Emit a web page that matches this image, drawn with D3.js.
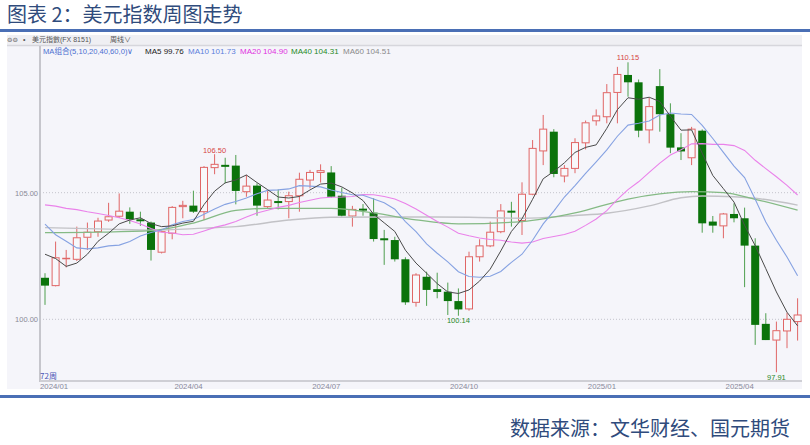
<!DOCTYPE html>
<html><head><meta charset="utf-8">
<script src="https://cdn.jsdelivr.net/npm/d3@7/dist/d3.min.js"></script>
<style>body{margin:0;background:#fff;}svg{display:block}</style>
</head><body>
<svg id="chart" width="810" height="445"></svg>
<script>
// ---- data (weekly US Dollar Index, 72 weeks) ----
const openP  = [101.64,101.33,102.40,102.37,103.24,103.46,103.92,104.07,104.25,103.95,103.82,102.65,103.40,104.45,104.49,104.25,105.99,106.10,106.07,105.04,105.28,104.45,104.67,104.65,104.88,105.50,105.80,105.80,104.88,104.08,104.37,104.21,103.20,103.13,102.37,100.67,101.68,101.19,101.09,100.72,100.41,102.47,102.90,103.46,104.29,103.90,104.94,106.65,107.41,105.66,105.96,106.97,107.84,108.00,108.96,109.65,109.36,107.48,109.21,108.10,106.79,106.38,107.45,103.86,103.69,104.16,103.99,102.91,99.82,99.18,99.54,99.91];
const highP  = [101.82,103.07,102.74,103.66,103.82,104.01,104.60,104.97,104.42,104.25,103.86,103.50,104.47,104.68,105.08,106.05,106.52,106.38,106.49,105.70,105.37,105.10,105.13,105.04,105.79,105.90,106.12,106.05,105.20,104.48,104.55,104.78,103.53,103.26,102.45,101.82,101.88,101.84,101.45,101.22,102.67,103.16,103.86,104.55,104.64,105.41,107.08,108.07,107.51,106.09,107.15,107.85,108.29,109.29,109.97,110.15,109.47,108.75,109.88,108.53,107.35,107.60,107.50,104.08,104.20,104.58,104.41,103.20,100.24,99.91,100.26,100.83];
const lowP   = [100.57,101.30,102.05,102.30,102.74,103.26,103.85,104.00,103.77,103.69,102.32,102.60,103.16,103.99,104.20,103.92,105.73,105.37,104.54,104.84,104.09,104.40,104.34,103.99,104.25,105.17,105.40,104.80,104.06,103.66,104.09,103.07,102.15,102.28,100.57,100.50,100.53,100.83,100.17,100.14,100.34,102.28,102.85,103.40,103.66,103.33,104.90,106.09,105.61,105.41,105.77,106.71,107.65,107.74,107.74,108.79,107.19,106.95,107.41,106.56,106.29,106.09,103.42,103.42,103.20,103.83,101.27,98.99,99.18,97.91,98.86,99.16];
const closeP = [101.33,102.43,102.41,103.22,103.44,103.88,104.05,104.27,103.95,103.88,102.74,103.46,104.42,104.50,104.25,106.00,106.12,106.07,105.07,105.26,104.49,104.71,104.62,104.88,105.53,105.80,105.87,104.84,104.09,104.34,104.32,103.17,103.13,102.37,100.67,101.75,101.16,101.08,100.72,100.39,102.47,102.90,103.44,104.28,104.27,104.94,106.75,107.51,105.74,105.96,106.98,107.76,108.03,108.95,109.67,109.36,107.45,108.40,108.10,106.78,106.63,107.51,103.79,103.70,104.16,103.99,102.91,99.78,99.18,99.55,100.00,100.17];

// moving averages as shown on the chart
const ma5  = [102.57,102.40,102.09,102.22,102.57,103.08,103.40,103.77,103.92,104.01,103.78,103.66,103.69,103.80,103.87,104.53,105.06,105.39,105.50,105.70,105.40,105.12,104.83,104.79,104.85,105.11,105.34,105.38,105.23,104.99,104.69,104.15,103.81,103.47,102.73,102.22,101.82,101.41,101.08,101.02,101.16,101.51,101.98,102.70,103.47,103.97,104.74,105.55,105.84,106.18,106.59,106.79,106.89,107.54,108.28,108.75,108.69,108.77,108.60,108.02,107.47,107.48,106.56,105.68,105.16,104.63,103.71,102.91,102.00,101.08,100.28,99.74];
const ma10 = [103.76,103.34,103.08,102.82,102.78,102.82,102.90,102.93,103.07,103.29,103.43,103.53,103.73,103.86,103.94,104.15,104.36,104.54,104.65,104.79,104.96,105.09,105.11,105.15,105.28,105.26,105.23,105.11,105.01,104.92,104.90,104.75,104.60,104.35,103.86,103.46,102.98,102.61,102.27,101.88,101.69,101.66,101.70,101.89,102.25,102.57,103.12,103.77,104.27,104.83,105.28,105.76,106.22,106.69,107.23,107.67,107.74,107.83,108.07,108.15,108.11,108.09,107.66,107.14,106.59,106.05,105.60,104.74,103.84,103.12,102.46,101.72];
const ma20 = [104.52,104.47,104.38,104.33,104.25,104.18,104.10,104.01,103.90,103.76,103.59,103.44,103.41,103.34,103.36,103.49,103.63,103.73,103.86,104.04,104.20,104.31,104.42,104.50,104.61,104.70,104.79,104.82,104.83,104.85,104.93,104.92,104.85,104.75,104.57,104.36,104.11,103.86,103.64,103.40,103.30,103.21,103.15,103.12,103.05,103.01,103.05,103.19,103.27,103.35,103.48,103.71,103.96,104.29,104.74,105.12,105.43,105.80,106.17,106.49,106.70,106.93,106.94,106.91,106.91,106.86,106.67,106.28,105.95,105.63,105.29,104.91];
const ma40Week = [0,5,10,14,18,21,27,31,35,39,45,50,55,58,61,64,67,71];
const ma40     = [103.42,103.44,103.50,103.80,104.30,104.38,104.38,104.20,103.93,103.77,103.86,104.20,104.75,104.95,105.04,105.00,104.74,104.31];
const ma60Week = [0,6,10,15,18,23,27,35,40,45,50,53,57,60,62,65,67,71];
const ma60     = [103.62,103.56,103.52,103.60,103.66,103.92,104.03,104.04,104.03,103.99,104.10,104.19,104.48,104.80,104.87,104.84,104.78,104.51];

const tickWeeks  = [1,14,27,40,53,66];
const tickLabels = ["2024/01","2024/04","2024/07","2024/10","2025/01","2025/04"];
const yTickVals  = [100,105];
const noteWeeks  = [16,55,39,69];
const noteVals   = [106.50,110.15,100.14,97.91];
const noteSide   = ["high","high","low","low"];
const legendNames  = ["MA5","MA10","MA20","MA40","MA60"];
const legendVals   = [99.76,101.73,104.90,104.31,104.51];

// ---- drawing ----
const svg = d3.select("#chart");
const LAT = "'Liberation Sans', Arial, sans-serif";
const CJK = "'Noto Sans CJK SC', 'Noto Sans', sans-serif";
const UP = "#e06666", DOWN = "#0b730b", DOWNW = "#4f9f4f";
const maColors = ["#4a4a4a","#86a2e2","#ea82ea","#85ba85","#c2c2c6"];
const legendColors = ["#222222","#5b7fdc","#e030e0","#1f8a1f","#8a8a8a"];

svg.append("rect").attr("width",810).attr("height",445).attr("fill","#ffffff");
svg.append("text").attr("x",7).attr("y",21.5).attr("font-family",CJK).attr("font-size",20)
  .attr("fill","#2f4b7c").text("图表 2：美元指数周图走势");
svg.append("rect").attr("x",0).attr("y",29).attr("width",810).attr("height",3).attr("fill","#4a6fb5");
svg.append("rect").attr("x",0).attr("y",395).attr("width",810).attr("height",3).attr("fill","#4a6fb5");
svg.append("text").attr("x",790).attr("y",436).attr("text-anchor","end").attr("font-family",CJK)
  .attr("font-size",20).attr("fill","#2f4b7c").text("数据来源：文华财经、国元期货");

// panel
svg.append("rect").attr("x",7).attr("y",35).attr("width",795).attr("height",354).attr("fill","#f5f5fa");
svg.append("rect").attr("x",7).attr("y",35).attr("width",795).attr("height",10).attr("fill","#efeff3");
svg.append("line").attr("x1",7).attr("x2",802).attr("y1",45.5).attr("y2",45.5).attr("stroke","#d6d6dc").attr("stroke-width",1.5);

const x = d3.scaleLinear().domain([0, 71]).range([45, 797.6]);
const y = d3.scaleLinear().domain([100, 105]).range([319.3, 192.7]);

// header rows
const h1 = svg.append("g").attr("fill","#555");
h1.append("text").attr("x",7).attr("y",42).attr("font-family","DejaVu Sans").attr("font-size",6.5).text("⊖⊖");
h1.append("text").attr("x",23).attr("y",42).attr("font-family",LAT).attr("font-size",7).text("•");
const t1 = h1.append("text").attr("x",32).attr("y",42).attr("font-size",7);
t1.append("tspan").attr("font-family",CJK).text("美元指數");
t1.append("tspan").attr("font-family",LAT).text("(FX 8151)");
h1.append("text").attr("x",110).attr("y",42).attr("font-family",CJK).attr("font-size",7).text("周线∨");

const h2 = svg.append("g").attr("font-family",LAT).attr("font-size",8);
const t2 = h2.append("text").attr("x",43).attr("y",53.5).attr("fill","#4a6fd0").attr("font-size",7.6);
t2.append("tspan").attr("font-family",LAT).text("MA");
t2.append("tspan").attr("font-family",CJK).text("组合");
t2.append("tspan").attr("font-family",LAT).text("(5,10,20,40,60,0)∨");
const legX = [145,188,240,291,343];
legendNames.forEach((n,k)=>{
  h2.append("text").attr("x",legX[k]).attr("y",53.5).attr("fill",legendColors[k])
    .text(n+" "+legendVals[k].toFixed(2));
});

// grid lines & y labels
yTickVals.forEach(v=>{
  svg.append("line").attr("x1",40).attr("x2",802).attr("y1",y(v)).attr("y2",y(v))
    .attr("stroke","#c4c4cc").attr("stroke-width",1).attr("stroke-dasharray","1,2");
  svg.append("text").attr("x",38).attr("y",y(v)+2.8).attr("text-anchor","end")
    .attr("font-family",LAT).attr("font-size",7.5).attr("fill","#8a8a96").text(v.toFixed(2));
});

// axes lines
svg.append("line").attr("x1",40).attr("x2",40).attr("y1",46).attr("y2",382).attr("stroke","#c6c6cc").attr("stroke-width",2);
svg.append("line").attr("x1",40).attr("x2",802).attr("y1",381).attr("y2",381).attr("stroke","#cfcfd5").attr("stroke-width",2);

tickWeeks.forEach((w,k)=>{
  svg.append("text").attr("x",Math.max(40, x(w)-19)).attr("y",389)
    .attr("font-family",LAT).attr("font-size",7.8).attr("fill","#8a8a9a").text(tickLabels[k]);
});
svg.append("text").attr("x",40).attr("y",379).attr("font-family",CJK).attr("font-size",8)
  .attr("fill","#4a55b5").text("72周");

// candles
const idx = d3.range(closeP.length);
const cg = svg.append("g");
idx.forEach(i=>{
  const o=openP[i], c=closeP[i], h=highP[i], l=lowP[i];
  const up = c >= o;
  const cx = x(i);
  const top = y(Math.max(o,c)), bot = y(Math.min(o,c));
  if (up) {
    cg.append("line").attr("x1",cx).attr("x2",cx).attr("y1",y(h)).attr("y2",top).attr("stroke",UP).attr("stroke-width",1);
    cg.append("line").attr("x1",cx).attr("x2",cx).attr("y1",bot).attr("y2",y(l)).attr("stroke",UP).attr("stroke-width",1);
    cg.append("rect").attr("x",cx-3.5).attr("y",top).attr("width",7).attr("height",Math.max(0.5,bot-top))
      .attr("fill","#f8f8fb").attr("stroke",UP).attr("stroke-width",1);
  } else {
    cg.append("line").attr("x1",cx).attr("x2",cx).attr("y1",y(h)).attr("y2",y(l)).attr("stroke",DOWNW).attr("stroke-width",1);
    cg.append("rect").attr("x",cx-4).attr("y",top).attr("width",8).attr("height",Math.max(2,bot-top))
      .attr("fill",DOWN);
  }
});

// moving averages
const lineW = d3.line().x(d=>x(d[0])).y(d=>y(d[1]));
const lineS = d3.line().x(d=>x(d[0])).y(d=>y(d[1])).curve(d3.curveMonotoneX);
const mg = svg.append("g").attr("fill","none");
mg.append("path").attr("d",lineS(ma60Week.map((w,k)=>[w,ma60[k]]))).attr("stroke",maColors[4]).attr("stroke-width",1.4);
mg.append("path").attr("d",lineS(ma40Week.map((w,k)=>[w,ma40[k]]))).attr("stroke",maColors[3]).attr("stroke-width",1.3);
mg.append("path").attr("d",lineW(idx.map(i=>[i,ma20[i]]))).attr("stroke",maColors[2]).attr("stroke-width",1.1);
mg.append("path").attr("d",lineW(idx.map(i=>[i,ma10[i]]))).attr("stroke",maColors[1]).attr("stroke-width",1.1);
mg.append("path").attr("d",lineW(idx.map(i=>[i,ma5[i]]))).attr("stroke",maColors[0]).attr("stroke-width",1);

// high / low notes
noteWeeks.forEach((w,k)=>{
  const isHigh = noteSide[k]==="high";
  svg.append("text").attr("x",x(w)).attr("y", isHigh ? y(noteVals[k])-2 : y(noteVals[k])+7.5)
    .attr("text-anchor","middle").attr("font-family",LAT).attr("font-size",7.5)
    .attr("fill", isHigh ? "#d64545" : "#2a8a2a").text(noteVals[k].toFixed(2));
});
</script>
</body></html>
